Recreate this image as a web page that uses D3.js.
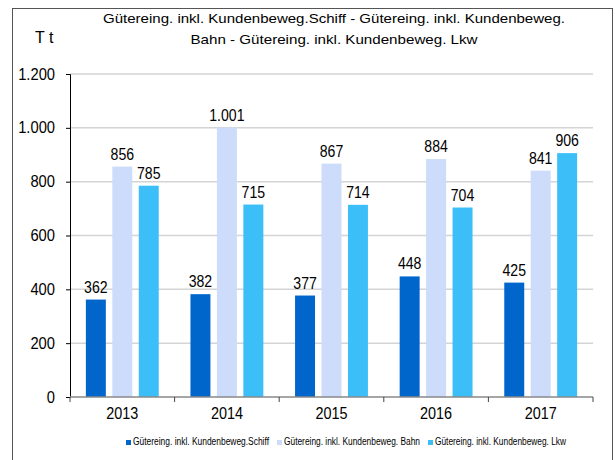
<!DOCTYPE html>
<html>
<head>
<meta charset="utf-8">
<script src="https://cdn.jsdelivr.net/npm/d3@7"></script>
<style>
  body { margin: 0; background: #fff; }
  text { font-family: "Liberation Sans", Arial, sans-serif; fill: #000; }
</style>
</head>
<body>
<div id="chart"></div>
<script>
// Data
const years = ['2013', '2014', '2015', '2016', '2017'];
const seriesNames = [
    'Gütereing. inkl. Kundenbeweg.Schiff',
    'Gütereing. inkl. Kundenbeweg. Bahn',
    'Gütereing. inkl. Kundenbeweg. Lkw'
];
const schiff = [362, 382, 377, 448, 425];
const bahn = [856, 1001, 867, 884, 841];
const lkw = [785, 715, 714, 704, 906];
const yTicks = [0, 200, 400, 600, 800, 1000, 1200];
const colors = ['#0066cc', '#ccdcfa', '#3cbef8'];
const titleLines = [
    'Gütereing. inkl. Kundenbeweg.Schiff  - Gütereing. inkl. Kundenbeweg.',
    'Bahn - Gütereing. inkl. Kundenbeweg. Lkw'
];

const W = 615, H = 460;
const margin = { left: 70, right: 22, top: 74, bottom: 63 };

const svg = d3.select('#chart').append('svg')
    .attr('width', W).attr('height', H);

// squeeze text a bit horizontally, like the original
function squeeze(sel, ratio) {
    sel.each(function () {
        const w = this.getComputedTextLength();
        d3.select(this).attr('textLength', w * ratio).attr('lengthAdjust', 'spacingAndGlyphs');
    });
}
const fmt = v => d3.format(',')(v).replace(/,/g, '.');

// outer frame
svg.append('rect')
    .attr('x', 12.5).attr('y', 8.5)
    .attr('width', 600).attr('height', 470)
    .attr('fill', 'none').attr('stroke', '#555').attr('stroke-width', 1);

const x0 = d3.scaleBand().domain(years).range([margin.left, W - margin.right]);
const y = d3.scaleLinear().domain([0, 1200]).range([H - margin.bottom, margin.top]);
const x1 = d3.scaleBand().domain([0, 1, 2])
    .range([0, x0.bandwidth()]).paddingInner(0.245).paddingOuter(0.6);

// gridlines
svg.append('g').selectAll('line').data(yTicks.filter(d => d > 0)).join('line')
    .attr('x1', margin.left).attr('x2', W - margin.right)
    .attr('y1', d => y(d)).attr('y2', d => y(d))
    .attr('stroke', '#d4d4d4').attr('stroke-width', 1.5);

// bars
const data = [schiff, bahn, lkw];
const groups = svg.append('g').selectAll('g').data(years).join('g')
    .attr('transform', d => `translate(${x0(d)},0)`);

groups.selectAll('rect')
    .data((d, i) => data.map((s, k) => ({ k, v: s[i] })))
    .join('rect')
    .attr('x', d => x1(d.k))
    .attr('width', x1.bandwidth())
    .attr('y', d => y(d.v))
    .attr('height', d => y(0) - y(d.v))
    .attr('fill', d => colors[d.k]);

const vals = groups.selectAll('text.val')
    .data((d, i) => data.map((s, k) => ({ k, v: s[i] })))
    .join('text')
    .attr('class', 'val')
    .attr('x', d => x1(d.k) + x1.bandwidth() / 2)
    .attr('y', d => y(d.v) - 7)
    .attr('text-anchor', 'middle')
    .style('font-size', '16px')
    .text(d => fmt(d.v));
squeeze(vals, 0.88);

// y axis
const yAxis = svg.append('g')
    .attr('transform', `translate(${margin.left},0)`)
    .call(d3.axisLeft(y).tickValues(yTicks).tickSize(4).tickPadding(11).tickFormat(fmt));
yAxis.select('.domain').attr('stroke', '#000');
yAxis.selectAll('.tick line').attr('stroke', '#000');
yAxis.selectAll('text').style('font-size', '16px').style('font-family', '"Liberation Sans", Arial, sans-serif');
squeeze(yAxis.selectAll('text'), 0.92);

// x axis
const xBase = svg.append('g').attr('transform', `translate(0,${y(0)})`);
xBase.append('line')
    .attr('x1', margin.left).attr('x2', W - margin.right)
    .attr('stroke', '#888').attr('stroke-width', 1.5);
const bounds = years.map(d => x0(d)).concat([x0(years[years.length - 1]) + x0.bandwidth()]);
xBase.selectAll('line.tk').data(bounds).join('line')
    .attr('class', 'tk')
    .attr('x1', d => d).attr('x2', d => d)
    .attr('y1', 0).attr('y2', 5)
    .attr('stroke', '#444');
const xl = xBase.selectAll('text').data(years).join('text')
    .attr('x', d => x0(d) + x0.bandwidth() / 2)
    .attr('y', 22)
    .attr('text-anchor', 'middle')
    .style('font-size', '16px')
    .text(d => d);
squeeze(xl, 0.9);

// unit label
svg.append('text').attr('x', 35).attr('y', 43)
    .style('font-size', '16px').text('T t');

// title
svg.append('g').selectAll('text').data(titleLines).join('text')
    .attr('x', 334).attr('y', (d, i) => 23 + i * 20.5)
    .attr('text-anchor', 'middle')
    .style('font-size', '13px')
    .attr('textLength', (d, i) => [462, 287][i])
    .attr('lengthAdjust', 'spacingAndGlyphs')
    .text(d => d);

// legend
const legendW = [136, 136, 131];
let lx = 126;
const legend = svg.append('g');
seriesNames.forEach((name, i) => {
    legend.append('rect')
        .attr('x', lx).attr('y', 440)
        .attr('width', 5).attr('height', 5)
        .attr('fill', colors[i]);
    legend.append('text')
        .attr('x', lx + 7).attr('y', 445)
        .style('font-size', '10px')
        .attr('textLength', legendW[i])
        .attr('lengthAdjust', 'spacingAndGlyphs')
        .text(name);
    lx += 7 + legendW[i] + 8;
});
</script>
</body>
</html>
